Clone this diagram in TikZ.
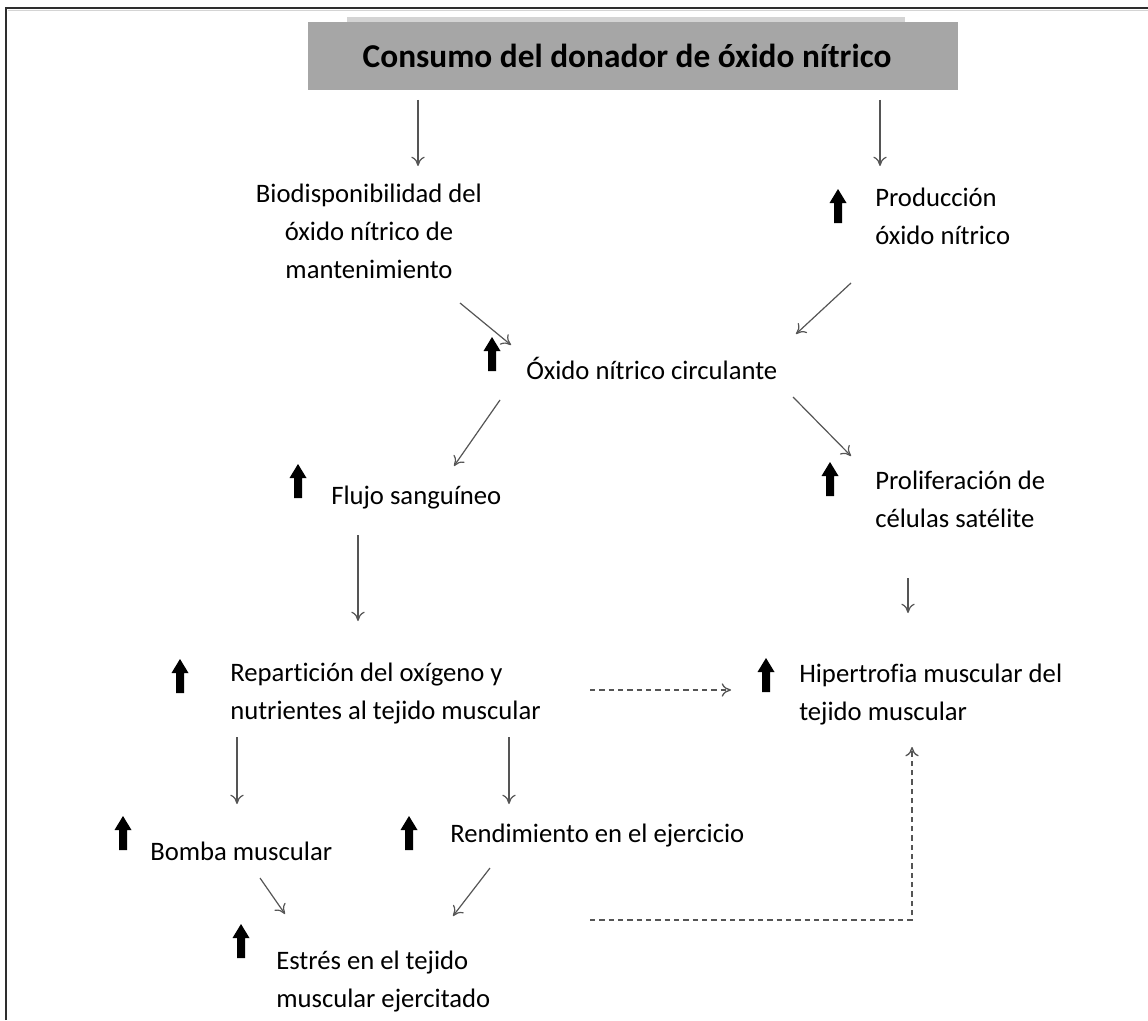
\documentclass[tikz,border=0pt]{standalone}
\usepackage{fontspec}
\setmainfont{Carlito}[Ligatures=NoCommon]
\usetikzlibrary{arrows.meta}
\definecolor{boxgray}{HTML}{A6A6A6}
\definecolor{stripgray}{HTML}{D4D4D4}
\definecolor{conngray}{HTML}{555555}
\definecolor{framegray}{HTML}{2E2E2E}
\tikzset{
  conn/.style={draw=conngray, line width=0.9pt, -{To[length=7pt,width=10pt]}},
  dconn/.style={draw=conngray, line width=1pt, dash pattern=on 4pt off 3pt, -{To[length=7pt,width=10pt]}},
  lbl/.style={font=\fontsize{20}{28.5}\selectfont, inner sep=0pt, anchor=west, align=left},
  uparr/.pic={\fill[black] (-4,17) -- (-4,-3) -- (-8.5,-3) -- (0,-17) -- (8.5,-3) -- (4,-3) -- (4,17) -- cycle;}
}
\begin{document}
\begin{tikzpicture}[x=0.75pt,y=-0.75pt]
\useasboundingbox (0,0) rectangle (1148,1020);
% frame
\draw[framegray, line width=1.8pt] (6,1020) -- (6,8) -- (1148,8);
\draw[stripgray, line width=0.6pt] (8,10.5) -- (1148,10.5);
% title
\fill[stripgray] (347,17) rectangle (905,22);
\node[fill=boxgray, minimum width=650*0.75pt, minimum height=68*0.75pt, inner sep=0pt,
      font=\fontsize{25}{30}\selectfont\bfseries] (title) at (633,56) {\hspace*{-9pt}Consumo del donador de óxido nítrico};
% labels
\node[lbl, align=center, anchor=center] (bio) at (369,231) {Biodisponibilidad del\\óxido nítrico de\\mantenimiento};
\node[lbl] (prod) at (875,216) {Producción\\óxido nítrico};
\node[lbl] (circ) at (526,368) {Óxido nítrico circulante};
\node[lbl] (flujo) at (331,498) {Flujo sanguíneo};
\node[lbl] (prolif) at (875,499) {Proliferación de\\células satélite};
\node[lbl] (repart) at (230,694) {Repartición del oxígeno y\\nutrientes al tejido muscular};
\node[lbl] (hiper) at (799,695) {Hipertrofia muscular del\\tejido muscular};
\node[lbl] (bomba) at (150,851) {Bomba muscular};
\node[lbl] (rend) at (450,836) {Rendimiento en el ejercicio};
\node[lbl] (estres) at (276,982) {Estrés en el tejido\\muscular ejercitado};
% bold up arrows
\pic at (838,206) {uparr};
\pic at (492,354) {uparr};
\pic at (298,481) {uparr};
\pic at (830,479) {uparr};
\pic at (180,676) {uparr};
\pic at (766,675) {uparr};
\pic at (123,833) {uparr};
\pic at (409,833) {uparr};
\pic at (241,941) {uparr};
% connector end points
\coordinate (t1) at (418,100); \coordinate (b1) at (418,166);
\coordinate (t2) at (880,100); \coordinate (p1) at (880,166);
\coordinate (bio2) at (460,303); \coordinate (c1) at (511,345);
\coordinate (prod2) at (851,283); \coordinate (c2) at (796,334);
\coordinate (c3) at (500,400); \coordinate (f1) at (454,466);
\coordinate (c4) at (793,397); \coordinate (s1) at (851,456);
\coordinate (f2) at (358,535); \coordinate (r1) at (358,621);
\coordinate (s2) at (908,578); \coordinate (h1) at (908,613);
\coordinate (r2) at (590,690); \coordinate (h2) at (731,690);
\coordinate (r3) at (237,737); \coordinate (bm1) at (237,804);
\coordinate (r4) at (509,737); \coordinate (rd1) at (509,804);
\coordinate (bm2) at (260,878); \coordinate (e1) at (285,914);
\coordinate (rd2) at (490,868); \coordinate (e2) at (453,916);
\coordinate (e3) at (590,920); \coordinate (corner) at (912,920); \coordinate (h3) at (912,747);
% connectors
\draw[conn] (t1) -- (b1);
\draw[conn] (t2) -- (p1);
\draw[conn] (bio2) -- (c1);
\draw[conn] (prod2) -- (c2);
\draw[conn] (c3) -- (f1);
\draw[conn] (c4) -- (s1);
\draw[conn] (f2) -- (r1);
\draw[conn] (s2) -- (h1);
\draw[dconn] (r2) -- (h2);
\draw[conn] (r3) -- (bm1);
\draw[conn] (r4) -- (rd1);
\draw[conn] (bm2) -- (e1);
\draw[conn] (rd2) -- (e2);
\draw[dconn] (e3) -- (corner) -- (h3);
\end{tikzpicture}
\end{document}
